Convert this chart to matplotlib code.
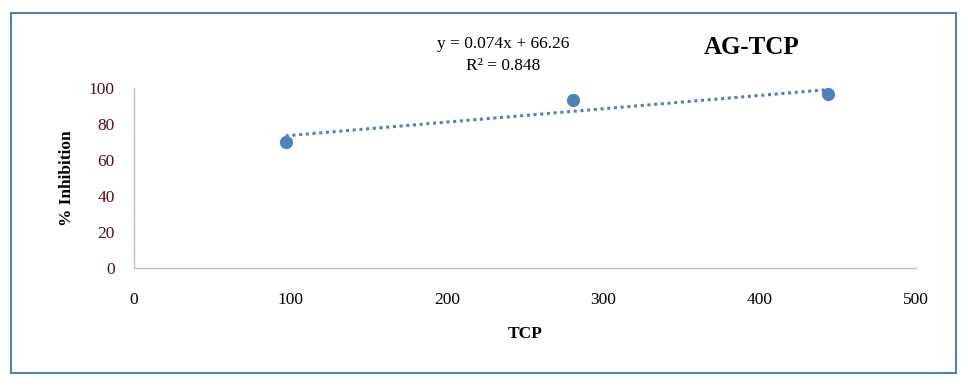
import matplotlib.pyplot as plt
from matplotlib.patches import Rectangle

# data
tcp = [97, 281, 444]
inhibition = [70, 93.5, 96.5]
slope, intercept = 0.074, 66.26
eq_text = "y = 0.074x + 66.26"
r2_text = "R\u00b2 = 0.848"
x_ticks = [0, 100, 200, 300, 400, 500]
y_ticks = [0, 20, 40, 60, 80, 100]

blue = '#4F81BD'
plt.rcParams['font.family'] = ['Liberation Serif', 'DejaVu Serif']

fig = plt.figure(figsize=(9.68, 3.91), dpi=100)

# outer frame like the Excel chart area
fig.patches.append(Rectangle((11 / 968, 18 / 391), 945 / 968, 360 / 391,
                             transform=fig.transFigure, fill=False,
                             edgecolor=blue, linewidth=1.5))

ax = fig.add_axes([134 / 968, 1 - 268 / 391, 782 / 968, 180 / 391])
ax.set_xlim(0, 500)
ax.set_ylim(0, 100)

# trendline from the fitted equation
x_fit = [min(tcp), max(tcp)]
y_fit = [slope * x + intercept for x in x_fit]
ax.plot(x_fit, y_fit, linestyle=(0, (1, 1.2)), color=blue, linewidth=2.2)
ax.plot(tcp, inhibition, 'o', color=blue, markersize=8.5)

ax.set_xticks(x_ticks)
ax.set_yticks(y_ticks)
ax.tick_params(length=0, labelsize=12.5)
ax.tick_params(axis='x', pad=17, labelcolor='black')
ax.tick_params(axis='y', pad=14, labelcolor='#5a1010')

for s in ['top', 'right']:
    ax.spines[s].set_visible(False)
for s in ['left', 'bottom']:
    ax.spines[s].set_color('#BFBFBF')
    ax.spines[s].set_linewidth(1)

ax.set_xlabel("TCP", fontsize=12.5, fontweight='bold', labelpad=13)
ax.set_ylabel("% Inhibition", fontsize=12.5, fontweight='bold', labelpad=10)

fig.text(503 / 968, 1 - 44 / 391, eq_text, ha='center', va='center', fontsize=12.5)
fig.text(503 / 968, 1 - 66 / 391, r2_text, ha='center', va='center', fontsize=12.5)
fig.text(752 / 968, 1 - 47 / 391, "AG-TCP", ha='center', va='center',
         fontsize=18, fontweight='bold')

fig.savefig('out.png', dpi=100)
